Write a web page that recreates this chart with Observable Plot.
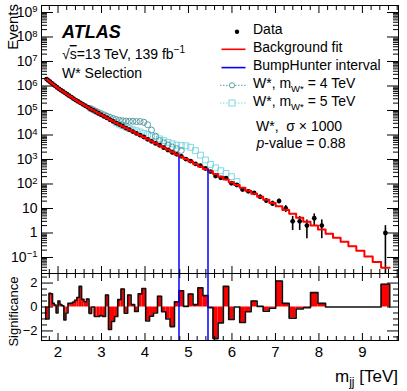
<!DOCTYPE html>
<html><head><meta charset="utf-8">
<script src="https://cdn.jsdelivr.net/npm/d3@7"></script>
<script src="https://cdn.jsdelivr.net/npm/@observablehq/plot@0.6"></script>
<style>
body{margin:0;background:#fff;}
#chart{position:relative;width:407px;height:391px;font-family:"Liberation Sans",Arial,sans-serif;background:#fff;}
#chart svg{position:absolute;left:0;}
</style></head><body><div id="chart"></div>
<script>
// ---------------- data ----------------
const binEdges = [1.717,1.755,1.794,1.833,1.873,1.915,1.957,2.000,2.044,2.089,
 2.135,2.182,2.230,2.279,2.330,2.381,2.433,2.487,2.542,2.598,
 2.655,2.713,2.773,2.834,2.897,2.960,3.026,3.092,3.160,3.230,
 3.301,3.374,3.448,3.524,3.602,3.681,3.762,3.845,3.930,4.016,
 4.105,4.195,4.288,4.382,4.479,4.578,4.678,4.782,4.887,4.995,
 5.105,5.217,5.332,5.449,5.564,5.682,5.802,5.925,6.050,6.178,
 6.309,6.442,6.579,6.718,6.860,7.006,7.159,7.316,7.476,7.640,
 7.807,7.978,8.153,8.324,8.499,8.678,8.860,9.046,9.236,9.430,9.628];

const backgroundFit = [1910000,1687000,1486000,1309000,1145500,1002300,873000,767400,677600,598400,
 526000,461300,403600,351600,304800,265500,233300,204600,179100,156000,
 135800,117800,102600,89130,77270,66830,57540,49550,42360,36140,
 30900,26490,22650,19280,16330,13800,11640,9750,8128,6745,
 5572,4581,3750,3062,2483,2009,1614,1297,1040,829.9,
 659.2,521.2,409.3,322.1,252.9,197.7,153.8,118.9,91.4,70.0,
 53.2,40.2,30.2,22.6,16.7,12.2,8.6,6.1,4.2,2.9,
 2.0,1.38,0.94,0.64,0.44,0.29,0.19,0.11,0.066,0.038];

const dataCounts = [1908618,1685701,1487390,1310258,1145821,1002470,872533,767838,677765,598477,
 525217,460960,403791,351778,305021,265783,233686,205378,179371,156174,
 136047,117618,102600,88891,77048,66644,57348,49773,41973,35912,
 30759,26591,22876,19208,16458,13824,11599,9859,8268,6649,
 5515,4547,3805,3040,2433,1936,1632,1346,1042,861,
 664,558,428,321,211,179,175,107,91,59,
 50,43,30,21,16,20,10,3,3,2,
 4,2,0,0,0,0,0,0,0,1];

const significance = [-1.0,-1.0,1.14,1.1,0.3,0.17,-0.5,0.5,0.2,0.1,
 -1.08,-0.5,0.3,0.3,0.4,0.55,0.8,1.72,0.64,0.44,
 0.67,-0.53,0.0,-0.8,-0.8,-0.72,-0.8,1.0,-1.88,-1.2,
 -0.8,0.62,1.5,-0.52,1.0,0.2,-0.38,1.1,1.55,-1.17,
 -0.76,-0.5,0.9,-0.4,-1.0,-1.64,0.44,1.36,0.05,1.08,
 0.2,1.6,0.95,-0.05,-2.64,-1.33,1.72,-1.05,0.0,-1.3,
 -0.4,0.5,0.05,-0.35,-0.1,2.17,0.3,-0.94,-0.17,-0.05,
 1.2,0.3,0,0,0,0,0,0,0,1.9];

// W* signal (x1000) + background, per bin, starting at the given bin index
const wstar4Start = 21;
const wstar4 = [120200,107200,94400,83200,74100,66100,58900,52500,46800,42700,
 39800,38000,37200,36300,36300,35500,35500,33100,26300,15800,
 8900,5900,4800,3900,3240,2750,2340];
const wstar5Start = 30;
const wstar5 = [31600,27500,24000,20900,18200,16200,14800,13200,11750,10500,
 9330,8130,6920,5890,5010,4370,3890,3720,3630,3160,
 2290,1510,955,631,457,347,269,200,126];

const bumpHunter = [4.782, 5.449];

const xMajorTicks = [2,3,4,5,6,7,8,9];
const yMajorTicks = [0.1,1,10,100,1e3,1e4,1e5,1e6,1e7,1e8,1e9];
const sigMajorTicks = [-2,0,2];

// ---------------- layout ----------------
const xDomain = [1.62, 9.83];
const yDomain = [0.0222, 1.93e9];
const sigDomain = [-2.8, 2.8];
const font = "'Liberation Sans', Arial, sans-serif";
const baseStyle = {fontFamily: font, fontSize: "14px", color: "#000", background: "none", overflow: "visible"};

const xMinorTicks = d3.range(1.8, 9.81, 0.2).map(v => +v.toFixed(1)).filter(v => !xMajorTicks.includes(v));
const yMinorTicks = [];
for (let e = -2; e <= 9; e++) for (let k = 2; k <= 9; k++) {
  const v = k * Math.pow(10, e);
  if (v > yDomain[0] && v < yDomain[1]) yMinorTicks.push(v);
}
const sigMinorTicks = d3.range(-2.5, 2.51, 0.5).filter(v => !sigMajorTicks.includes(v));

const bins = backgroundFit.map((b, i) => ({
  x1: binEdges[i], x2: binEdges[i + 1], xc: (binEdges[i] + binEdges[i + 1]) / 2,
  bkg: b, n: dataCounts[i], sig: significance[i]
}));
const fitLine = bins.map(d => ({x: d.x1, y: d.bkg})).concat([{x: bins[bins.length - 1].x2, y: bins[bins.length - 1].bkg}]);
const dataPts = bins.filter(d => d.n > 0);
const sig4 = wstar4.map((v, j) => ({x: bins[wstar4Start + j].xc, y: v}));
const sig5 = wstar5.map((v, j) => ({x: bins[wstar5Start + j].xc, y: v}));
const bhTop = bumpHunter.map((e, i) => {
  const idx = i === 0 ? bins.findIndex(b => Math.abs(b.x1 - e) < 1e-6) : bins.findIndex(b => Math.abs(b.x2 - e) < 1e-6);
  return {x: e, top: bins[idx].bkg};
});
const sigLine = [{x: bins[0].x1, y: 0}].concat(bins.map(d => ({x: d.x1, y: d.sig})),
  [{x: bins[bins.length - 1].x2, y: bins[bins.length - 1].sig}, {x: bins[bins.length - 1].x2, y: 0}]);

function tickMarks(axis, ticks, anchor, size) {
  const o = {anchor, tickSize: size, fill: "none", label: null, stroke: "#000", strokeWidth: 1};
  if (anchor === "left") o.dx = size;
  if (anchor === "right") o.dx = -size;
  if (anchor === "top") o.dy = size;
  if (anchor === "bottom") o.dy = -size;
  return axis === "x" ? Plot.axisX(ticks, o) : Plot.axisY(ticks, o);
}

const yFmt = d => d === 1 ? "1" : d === 10 ? "10" : "10^" + (Math.round(Math.log10(d)) < 0 ? "−" + Math.abs(Math.round(Math.log10(d))) : Math.round(Math.log10(d)));

const topPlot = Plot.plot({
  width: 407, height: 276,
  marginLeft: 41, marginRight: 9, marginTop: 5, marginBottom: 3,
  x: {domain: xDomain},
  y: {type: "log", domain: yDomain},
  style: baseStyle,
  marks: [
    Plot.dot(sig5, {x: "x", y: "y", symbol: "square", r: 3.3, stroke: "#7ed8e2", strokeWidth: 1, fill: "none"}),
    Plot.dot(sig4, {x: "x", y: "y", symbol: "circle", r: 3.0, stroke: "#5a9ca5", strokeWidth: 1, fill: "none"}),
    Plot.ruleX(dataPts, {x: "xc", y1: d => Math.max(d.n - Math.sqrt(d.n), 1e-3), y2: d => d.n + Math.sqrt(d.n), stroke: "#000", strokeWidth: 1.6, clip: true}),
    Plot.dot(dataPts, {x: "xc", y: "n", r: 2.4, fill: "#000", stroke: "none"}),
    Plot.line(fitLine, {x: "x", y: "y", curve: "step-after", stroke: "#ff0000", strokeWidth: 2}),
    Plot.ruleX(bhTop, {x: "x", y1: yDomain[0], y2: "top", stroke: "#0000ff", strokeWidth: 1.5}),
    tickMarks("y", yMajorTicks, "left", 12),
    tickMarks("y", yMinorTicks, "left", 6),
    tickMarks("y", yMajorTicks, "right", 12),
    tickMarks("y", yMinorTicks, "right", 6),
    tickMarks("x", xMajorTicks, "top", 7),
    tickMarks("x", xMinorTicks, "top", 4),
    tickMarks("x", xMajorTicks, "bottom", 7),
    tickMarks("x", xMinorTicks, "bottom", 4),
    Plot.axisY(yMajorTicks, {anchor: "left", stroke: "none", tickSize: 0, tickPadding: 4, tickFormat: yFmt, fontSize: 14, label: null, fill: "#000"}),
    Plot.frame({stroke: "#000", strokeWidth: 1})
  ]
});

const botPlot = Plot.plot({
  width: 407, height: 128,
  marginLeft: 41, marginRight: 9, marginTop: 10, marginBottom: 51,
  x: {domain: xDomain},
  y: {domain: sigDomain},
  style: baseStyle,
  marks: [
    Plot.rect(bins, {x1: "x1", x2: "x2", y1: 0, y2: "sig", fill: "#ff0000"}),
    Plot.line(sigLine, {x: "x", y: "y", curve: "step-after", stroke: "#111", strokeWidth: 1.6}),
    Plot.ruleX(bumpHunter, {x: d => d, stroke: "#0000ff", strokeWidth: 1.5}),
    tickMarks("y", sigMajorTicks, "left", 12),
    tickMarks("y", sigMinorTicks, "left", 6),
    tickMarks("y", sigMajorTicks, "right", 12),
    tickMarks("y", sigMinorTicks, "right", 6),
    tickMarks("x", xMajorTicks, "top", 7),
    tickMarks("x", xMinorTicks, "top", 4),
    tickMarks("x", xMajorTicks, "bottom", 7),
    tickMarks("x", xMinorTicks, "bottom", 4),
    Plot.axisY(sigMajorTicks, {anchor: "left", stroke: "none", tickSize: 0, tickPadding: 4, tickFormat: d => d < 0 ? "−" + Math.abs(d) : String(d), fontSize: 13, label: null, fill: "#000"}),
    Plot.axisX(xMajorTicks, {anchor: "bottom", stroke: "none", tickSize: 0, tickPadding: 6, tickFormat: d => String(d), fontSize: 15, label: null, fill: "#000"}),
    Plot.frame({stroke: "#000", strokeWidth: 1})
  ]
});

const chart = document.getElementById("chart");
topPlot.style.top = "0px";
botPlot.style.top = "263px";
chart.appendChild(topPlot);
chart.appendChild(botPlot);

// superscripts on the log axis labels
d3.select(topPlot).selectAll('g[aria-label="y-axis tick label"] text').each(function () {
  const t = this.textContent;
  if (t.includes("^")) {
    const [base, exp] = t.split("^");
    const sel = d3.select(this);
    sel.text(null);
    sel.append("tspan").text(base);
    sel.append("tspan").text(exp).attr("dy", "-0.5em").attr("font-size", "0.68em");
  }
});

// ---------------- annotations & legend ----------------
const ov = d3.select(chart).append("svg").attr("width", 407).attr("height", 391)
  .style("top", "0px").attr("font-family", font).style("pointer-events", "none");

ov.append("text").attr("transform", "translate(18,4) rotate(-90)").attr("text-anchor", "end")
  .attr("font-size", 15).text("Events");
ov.append("text").attr("transform", "translate(18,311.5) rotate(-90)").attr("text-anchor", "middle")
  .attr("font-size", 13).text("Significance");
const xt = ov.append("text").attr("x", 398).attr("y", 382).attr("text-anchor", "end").attr("font-size", 17);
xt.append("tspan").text("m");
xt.append("tspan").text("jj").attr("font-size", 12).attr("dy", 4);
xt.append("tspan").text(" [TeV]").attr("dy", -4);

ov.append("text").attr("x", 62).attr("y", 37.5).attr("font-size", 18).attr("font-weight", "bold")
  .attr("font-style", "italic").text("ATLAS");
const rs = ov.append("text").attr("x", 62).attr("y", 59).attr("font-size", 14);
rs.append("tspan").text("√");
rs.append("tspan").text("s").style("text-decoration", "overline");
rs.append("tspan").text("=13 TeV, 139 fb");
rs.append("tspan").text("−1").attr("font-size", 10).attr("dy", -6);
ov.append("text").attr("x", 62).attr("y", 78).attr("font-size", 14).text("W* Selection");

const legend = [
  {y: 34.3, sym: "dot", parts: [["Data"]]},
  {y: 51.7, sym: "red", parts: [["Background fit"]]},
  {y: 70, sym: "blue", parts: [["BumpHunter interval"]]},
  {y: 88.3, sym: "circle", parts: [["W*, m"], ["W*", "sub"], [" = 4 TeV", "back"]]},
  {y: 106, sym: "square", parts: [["W*, m"], ["W*", "sub"], [" = 5 TeV", "back"]]}
];
legend.forEach(e => {
  const cy = e.y - 3;
  if (e.sym === "dot") ov.append("circle").attr("cx", 237).attr("cy", cy + 0.5).attr("r", 2.2).attr("fill", "#000");
  if (e.sym === "red") ov.append("line").attr("x1", 221.5).attr("x2", 245.5).attr("y1", cy + 0.6).attr("y2", cy + 0.6).attr("stroke", "#ff0000").attr("stroke-width", 1.6);
  if (e.sym === "blue") ov.append("line").attr("x1", 221.5).attr("x2", 245.5).attr("y1", cy + 0.6).attr("y2", cy + 0.6).attr("stroke", "#0000ff").attr("stroke-width", 1.6);
  if (e.sym === "circle" || e.sym === "square") {
    const col = e.sym === "circle" ? "#5a9ca5" : "#7ed8e2";
    ov.append("line").attr("x1", 220).attr("x2", 246.5).attr("y1", cy).attr("y2", cy)
      .attr("stroke", col).attr("stroke-width", 1).attr("stroke-dasharray", "1.5,1.5");
    if (e.sym === "circle") ov.append("circle").attr("cx", 232).attr("cy", cy).attr("r", 2.6).attr("fill", "#fff").attr("stroke", col);
    else ov.append("rect").attr("x", 229).attr("y", cy - 3).attr("width", 6).attr("height", 6).attr("fill", "#fff").attr("stroke", col);
  }
  const t = ov.append("text").attr("x", 253).attr("y", e.y).attr("font-size", 14);
  e.parts.forEach(p => {
    const s = t.append("tspan").text(p[0]);
    if (p[1] === "sub") s.attr("font-size", 9.5).attr("dy", 4);
    if (p[1] === "back") s.attr("dy", -4);
  });
});
const l6 = ov.append("text").attr("x", 256).attr("y", 130.7).attr("font-size", 14);
l6.append("tspan").text("W*,\u00a0\u00a0σ × 1000");
const l7 = ov.append("text").attr("x", 256.5).attr("y", 148.3).attr("font-size", 14);
l7.append("tspan").text("p").attr("font-style", "italic");
l7.append("tspan").text("-value = 0.88");
</script>
</body></html>
